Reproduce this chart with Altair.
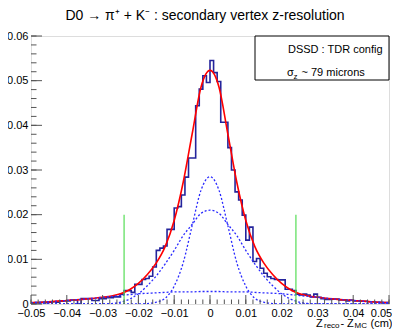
import altair as alt
import pandas as pd

# ---------------- data ----------------
bin_start = -0.05
bin_width = 0.001
hist_values = [
    0.0002, 0.0003, 0.0003, 0.0004, 0.0003, 0.0004, 0.0005, 0.0004, 0.0006, 0.0007,
    0.0007, 0.0009, 0.0009, 0.0000, 0.0012, 0.0012, 0.0012, 0.0008, 0.0008, 0.0012,
    0.0012, 0.0014, 0.0014, 0.0016, 0.0016, 0.0022, 0.0030, 0.0030, 0.0026, 0.0044,
    0.0044, 0.0055, 0.0057, 0.0062, 0.0083, 0.0120, 0.0125, 0.0130, 0.0167, 0.0167,
    0.0215, 0.0218, 0.0244, 0.0284, 0.0327, 0.0327, 0.0444, 0.0481, 0.0511, 0.0496,
    0.0545, 0.0518, 0.0498, 0.0407, 0.0407, 0.0350, 0.0300, 0.0251, 0.0233, 0.0199,
    0.0143, 0.0172, 0.0095, 0.0102, 0.0080, 0.0069, 0.0061, 0.0057, 0.0055, 0.0054,
    0.0054, 0.0033, 0.0033, 0.0030, 0.0022, 0.0020, 0.0022, 0.0020, 0.0016, 0.0022,
    0.0015, 0.0012, 0.0010, 0.0010, 0.0011, 0.0011, 0.0009, 0.0009, 0.0007, 0.0009,
    0.0007, 0.0007, 0.0006, 0.0006, 0.0005, 0.0005, 0.0004, 0.0004, 0.0003, 0.0003,
]

curve_x = [-0.05, -0.045, -0.04, -0.035, -0.03, -0.0275, -0.025, -0.0225, -0.02,
           -0.0175, -0.015, -0.0125, -0.01, -0.0075, -0.005, -0.0025, 0.0,
           0.0025, 0.005, 0.0075, 0.01, 0.0125, 0.015, 0.0175, 0.02, 0.0225,
           0.025, 0.0275, 0.03, 0.035, 0.04, 0.045, 0.05]
fit_total = [0.0003, 0.0005, 0.0008, 0.0011, 0.0015, 0.0018, 0.0023, 0.0032, 0.0046,
             0.0066, 0.0092, 0.0129, 0.0187, 0.0272, 0.0380, 0.0486, 0.0523,
             0.0486, 0.0380, 0.0272, 0.0187, 0.0129, 0.0092, 0.0066, 0.0046, 0.0032,
             0.0023, 0.0018, 0.0015, 0.0011, 0.0008, 0.0005, 0.0003]
gauss_narrow = [0.0, 0.0, 0.0, 0.0, 0.0, 0.0, 0.0, 0.0, 0.0,
                0.0001, 0.0004, 0.0013, 0.0040, 0.0092, 0.0175, 0.0255, 0.0285,
                0.0255, 0.0175, 0.0092, 0.0040, 0.0013, 0.0004, 0.0001, 0.0, 0.0,
                0.0, 0.0, 0.0, 0.0, 0.0, 0.0, 0.0]
gauss_medium = [0.0, 0.0, 0.0, 0.0, 0.0, 0.0001, 0.0004, 0.0011, 0.0023,
                0.0041, 0.0063, 0.0090, 0.0120, 0.0153, 0.0178, 0.0203, 0.0210,
                0.0203, 0.0178, 0.0153, 0.0120, 0.0090, 0.0063, 0.0041, 0.0023, 0.0011,
                0.0004, 0.0001, 0.0, 0.0, 0.0, 0.0, 0.0]
gauss_wide = [0.0003, 0.0005, 0.0008, 0.0011, 0.0015, 0.0017, 0.0019, 0.0021, 0.0023,
              0.0024, 0.0025, 0.0026, 0.0027, 0.0027, 0.0027, 0.0028, 0.0028,
              0.0028, 0.0027, 0.0027, 0.0027, 0.0026, 0.0025, 0.0024, 0.0023, 0.0021,
              0.0019, 0.0017, 0.0015, 0.0011, 0.0008, 0.0005, 0.0003]

cut_positions = [-0.024, 0.024]
cut_height = 0.02

x_major = [-0.05, -0.04, -0.03, -0.02, -0.01, 0.0, 0.01, 0.02, 0.03, 0.04, 0.05]
y_major = [0.0, 0.01, 0.02, 0.03, 0.04, 0.05, 0.06]
x_minor = [round(-0.05 + 0.002 * i, 4) for i in range(51)]
y_minor = [round(0.002 * i, 4) for i in range(31)]

title_text = "D0 \u2192 \u03c0\u207a + K\u207b : secondary vertex z-resolution"
legend_line1 = "DSSD : TDR config"

# ---------------- layout ----------------
W, H = 358, 268
FONT = "Liberation Sans"

xs = alt.Scale(domain=[-0.05, 0.05], nice=False, zero=False)
ys = alt.Scale(domain=[0, 0.06], nice=False, zero=False)
x_axis = alt.Axis(
    values=x_major, format="~g", title=None, ticks=False, domain=False, grid=False,
    labelFont=FONT, labelFontSize=11, labelColor="black", labelPadding=3,
    labelFlush=False, labelOverlap=False, labelBound=False,
    labelOffset={"condition": {"test": "datum.value > 0.0499", "value": -8}, "value": 0})
y_axis = alt.Axis(
    values=y_major, format="~g", title=None, ticks=False, domain=False, grid=False,
    labelFont=FONT, labelFontSize=11, labelColor="black", labelPadding=3,
    labelFlush=False, labelOverlap=False, labelBound=False)


def X(field):
    return alt.X(field, scale=xs, axis=x_axis, title=None)


def Y(field):
    return alt.Y(field, scale=ys, axis=y_axis, title=None)


edges = [bin_start + bin_width * i for i in range(len(hist_values) + 1)]
hist_df = pd.DataFrame({"x": edges, "y": hist_values + [hist_values[-1]]})

curves = pd.DataFrame({"x": curve_x, "y": fit_total, "g1": gauss_narrow,
                       "g2": gauss_medium, "g3": gauss_wide})

hist = alt.Chart(hist_df).mark_line(
    interpolate="step-after", color="#24249c", strokeWidth=1.6, clip=True
).encode(x=X("x:Q"), y=Y("y:Q"))

fit = alt.Chart(curves).mark_line(
    interpolate="monotone", color="#ff0000", strokeWidth=1.6, clip=True
).encode(x=X("x:Q"), y=Y("y:Q"))

comps = []
for col in ["g1", "g2", "g3"]:
    comps.append(
        alt.Chart(curves).mark_line(
            interpolate="monotone", color="#2a2aff", strokeWidth=1.3,
            strokeDash=[2, 2], clip=True
        ).encode(x=X("x:Q"), y=Y(f"{col}:Q"))
    )

cut_df = pd.DataFrame({"x": cut_positions, "y": [0.0, 0.0], "y1": [cut_height, cut_height]})
cuts = alt.Chart(cut_df).mark_rule(color="#55dd55", strokeWidth=1.2).encode(
    x=X("x:Q"), y=Y("y:Q"), y2="y1:Q"
)

xmaj_df = pd.DataFrame({"x": x_major})
xmin_df = pd.DataFrame({"x": x_minor})
ymaj_df = pd.DataFrame({"y": y_major})
ymin_df = pd.DataFrame({"y": y_minor})

tick_color = "#555555"
xt_major = alt.Chart(xmaj_df).mark_rule(color=tick_color, strokeWidth=1).encode(
    x=X("x:Q"), y=alt.value(H), y2=alt.value(H - 9))
xt_minor = alt.Chart(xmin_df).mark_rule(color=tick_color, strokeWidth=1).encode(
    x=X("x:Q"), y=alt.value(H), y2=alt.value(H - 4.5))
yt_major = alt.Chart(ymaj_df).mark_rule(color=tick_color, strokeWidth=1).encode(
    y=Y("y:Q"), x=alt.value(0), x2=alt.value(11))
yt_minor = alt.Chart(ymin_df).mark_rule(color=tick_color, strokeWidth=1).encode(
    y=Y("y:Q"), x=alt.value(0), x2=alt.value(5.5))

one = pd.DataFrame({"k": [0]})
legend_box = alt.Chart(one).mark_rect(fill="white", stroke="black", strokeWidth=1).encode(
    x=alt.value(224), x2=alt.value(W), y=alt.value(0), y2=alt.value(44))


def txt(text, x, y, size=11, align="left", baseline="alphabetic"):
    return alt.Chart(one).mark_text(
        text=text, font=FONT, fontSize=size, color="black", align=align, baseline=baseline
    ).encode(x=alt.value(x), y=alt.value(y))


texts = [
    txt(title_text, 174, -16.5, size=14, align="center"),
    txt(legend_line1, 257, 17),
    txt("\u03c3", 256, 40),
    txt("z", 262.5, 43, size=8),
    txt("~ 79 microns", 270.5, 40),
    txt("Z", 285, 291),
    txt("reco", 293, 292, size=8),
    txt("-", 309.5, 291),
    txt("Z", 316, 291),
    txt("MC", 323.5, 292, size=8),
    txt("(cm)", 339.5, 291),
]

chart = alt.layer(
    hist, fit, *comps, cuts, xt_major, xt_minor, yt_major, yt_minor, legend_box, *texts
).properties(
    width=W, height=H,
    padding={"left": 23, "top": 28, "right": 3, "bottom": 25},
    autosize=alt.AutoSizeParams(type="none"),
).configure_view(stroke="black", strokeWidth=1).configure(background="white")

chart.save("out.html", embed_options={"renderer": "svg", "actions": False})
